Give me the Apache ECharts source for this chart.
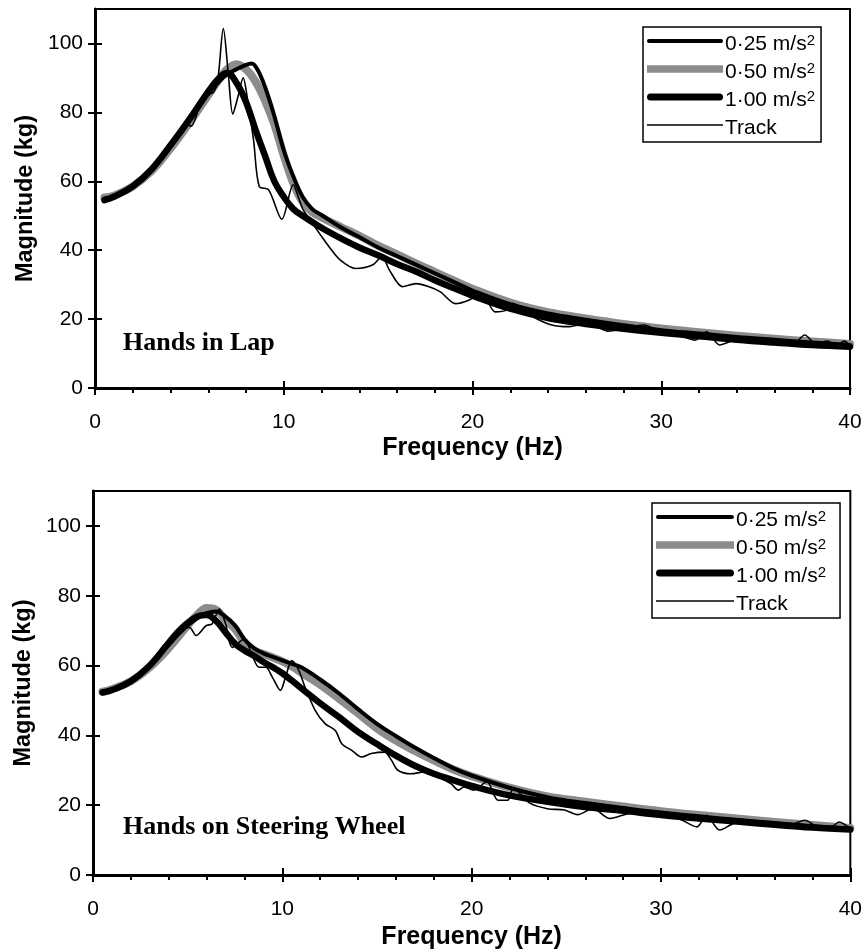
<!DOCTYPE html>
<html><head><meta charset="utf-8">
<script src="https://cdn.jsdelivr.net/npm/echarts@6/dist/echarts.min.js"></script>
<style>html,body{margin:0;padding:0;background:#fff}#c{width:865px;height:952px}</style>
</head><body><div id="c"></div>
<script>
// ---------- tick labels / categories ----------
const xTicks = [0, 10, 20, 30, 40];
const yTicks = [0, 20, 40, 60, 80, 100];
const seriesNames = ['0·25 m/s²', '0·50 m/s²', '1·00 m/s²', 'Track'];
const panelLabels = ['Hands in Lap', 'Hands on Steering Wheel'];

// ---------- Hands in Lap ----------
const lap025F = [0.5,1,2,3,4,5,6,6.5,7,7.5,8,8.3,8.6,9,9.5,10,10.5,11,11.5,12,13,14,15,16,17,18,19,20,22,24,26,28,30,32,34,36,38,40];
const lap025M = [55,55.6,58.5,63.2,70,77.5,85.5,88.5,91,92.5,93.8,94.2,92.5,87.5,79,69,61.5,55.5,52,50.2,46.7,43.8,40.8,38.3,35.8,33.3,30.8,28.3,24.3,21.6,19.8,18.2,16.8,15.8,14.8,14,13.2,12.5];
const lap050F = [0.5,1,2,3,4,5,6,6.5,7,7.5,8,8.5,9,9.5,10,10.5,11,11.5,12,13,14,15,16,17,18,19,20,22,24,26,28,30,32,34,36,38,40];
const lap050M = [55.3,55.8,58.5,63,69.5,77,85,89,92.5,94,92.5,89,83.5,76.5,67.5,59.5,54,51,49.5,46.8,44.2,41.3,38.8,36.2,33.7,31.2,28.8,24.8,22,20.2,18.6,17.3,16.2,15.2,14.3,13.5,12.8];
const lap100F = [0.5,1,2,3,4,5,6,6.5,7,7.5,8,8.5,9,9.5,10,10.5,11,12,13,14,15,16,17,18,19,20,22,24,26,28,30,32,34,36,38,40];
const lap100M = [54.5,55.5,58.5,63.5,70.5,78,86,89.5,91.5,88.5,83,75,67.5,60,55.5,52,50,46.5,43.5,40.8,38.5,36,33.8,31.3,29,26.8,23,20.3,18.6,17.2,16,15,14,13.2,12.5,12];
const lapTrkF = [0.5,1,2,3,4,4.8,5.1,5.5,6,6.3,6.5,6.8,7.05,7.3,7.55,7.85,8.1,8.4,8.7,9.2,9.9,10.5,10.8,11,11.5,11.9,12.4,13,13.8,14.7,15.2,15.6,16.3,17,17.7,18.3,19.1,19.8,20.5,21.2,21.8,22.1,23.2,24.2,25.1,25.7,26.5,27.2,28,29.1,30,31,31.8,32.4,33.1,34,35,36,37,37.6,38.2,38.8,39.3,39.7,40];
const lapTrkM = [54.5,55.5,58.5,63.5,70.5,76.5,76,81,85,86,89,104.3,92,79.5,84,90,83,72,58.5,57.5,49,59,55,52,48,44.8,41,37.1,34.7,35.7,38.1,34.2,29.4,30.3,29.4,27.9,24.5,25.5,27.5,22.1,22.6,24.6,20.7,18.3,17.8,18.3,18,16.5,17.2,18.3,16,15.2,13.9,16.3,12.5,14,13.5,13.2,12.8,15.4,12.8,13.6,12.3,13.6,12];

// ---------- Hands on Steering Wheel ----------
const wh025F = [0.5,1,2,3,4,5,5.5,6,6.5,7,7.5,8,8.5,9,9.5,10,10.5,11,12,13,14,15,16,17,18,19,20,22,24,26,28,30,32,34,36,38,40];
const wh025M = [52.3,53,55.5,60,66,71.5,73.5,75,75.5,74,71.5,67.5,65,63.5,62.5,61.5,60.5,59.5,56,52,47.5,43.3,39.8,36.5,33.5,30.7,28.5,25,22.3,20.6,19.2,17.9,16.8,15.8,14.9,14,13.3];
const wh050F = [0.5,1,2,3,4,5,5.5,6,6.5,7,7.5,8,8.5,9,9.5,10,10.5,11,12,13,14,15,16,17,18,19,20,22,24,26,28,30,32,34,36,38,40];
const wh050M = [52.5,53.2,55.5,59.5,65,71.5,74.5,76.5,76,73,70.5,66.5,64.3,63.3,62.3,61.2,59.8,58,54.5,50.5,46.3,42,38.5,35.5,32.8,30.3,28.3,25,22.5,21,19.6,18.3,17.2,16.2,15.2,14.3,13.5];
const wh100F = [0.5,1,2,3,4,4.7,5.5,6,6.5,7,7.5,8,8.5,9,9.5,10,10.5,11,12,13,14,15,16,17,18,19,20,22,24,26,28,30,32,34,36,38,40];
const wh100M = [52.3,53,55.5,60,66.5,70.8,74,74.5,72.8,69.5,66.3,64.3,62.8,61,59.5,57.8,55.7,53.5,49.2,45.2,41,37.5,34.2,31.3,29,27.2,25.5,22.8,21,19.5,18.4,17.2,16.2,15.3,14.4,13.6,13];
const whTrkF = [0.5,1,2,3,4,4.7,5.1,5.44,5.97,6.3,6.67,7,7.37,7.98,8.4,8.77,9.12,9.47,9.9,10.17,10.5,10.87,11.2,11.74,12.27,12.8,13.14,13.67,14.19,14.7,15.4,15.76,16.1,16.8,17.5,18.2,18.9,19.3,19.6,20.1,20.8,21.4,21.9,22.2,23.1,24,24.9,25.6,26.4,27.3,28.2,29.2,30,31,31.9,32.4,33.1,34,35,36,36.8,37.6,38.3,39,39.4,40];
const whTrkM = [52.3,53,55.5,60,66.5,70.8,70.9,68.6,71.4,72,76.2,72,65.2,67.6,63,59.5,59.5,56.7,52.9,56.7,61.4,58.6,53.8,47.1,43.3,41.4,37.6,35.7,33.8,34.8,35.2,32.9,30,29,29.5,28.1,26.2,24.3,25.2,24.3,26.7,21.4,21.4,24.8,20.5,19,18.6,17.3,19,16.2,17.5,18.6,17,16,13.8,17.1,12.9,15,14.6,14.4,14.3,15.7,13.8,13.8,15.2,13.2];

// ---------- build ----------
const SANS = "'Liberation Sans', Arial, sans-serif";
const SERIF = "'Liberation Serif', 'Times New Roman', serif";
const GRAY = '#8c8c8c';
function pairs(f, m) { return f.map((x, i) => [x, m[i]]); }

const styles = {
  '0·25 m/s²': { color: '#000', width: 4, smooth: 0.4 },
  '0·50 m/s²': { color: GRAY, width: 8, smooth: 0.4 },
  '1·00 m/s²': { color: '#000', width: 6.5, smooth: 0.4 },
  'Track': { color: '#000', width: 1.6, smooth: 0.3 }
};
const panels = [
  { grid: { left: 95, top: 9, width: 755, height: 379 },
    data: { '0·25 m/s²': [lap025F, lap025M], '0·50 m/s²': [lap050F, lap050M], '1·00 m/s²': [lap100F, lap100M], 'Track': [lapTrkF, lapTrkM] },
    nameGapX: 48, legend: { left: 643, top: 27, w: 76, padR: 6 }, label: { x: 123, y: 344 } },
  { grid: { left: 93, top: 491, width: 762, height: 384 },
    data: { '0·25 m/s²': [wh025F, wh025M], '0·50 m/s²': [wh050F, wh050M], '1·00 m/s²': [wh100F, wh100M], 'Track': [whTrkF, whTrkM] },
    nameGapX: 50, legend: { left: 652, top: 503, w: 78, padR: 14 }, label: { x: 123, y: 828 } }
];

const icons = {
  '0·25 m/s²': 'path://M2,0H74A2,2,0,0,1,74,4H2A2,2,0,0,1,2,0Z',
  '0·50 m/s²': 'path://M0,0H76V7.5H0Z',
  '1·00 m/s²': 'path://M3.5,0H72.5A3.5,3.5,0,0,1,72.5,7H3.5A3.5,3.5,0,0,1,3.5,0Z',
  'Track': 'path://M0,0H76V1.6H0Z'
};

const grids = [], xAxes = [], yAxes = [], series = [], legends = [], graphics = [];
const drawOrder = ['0·50 m/s²', '1·00 m/s²', '0·25 m/s²', 'Track'];
const axisColor = '#000';
panels.forEach((p, gi) => {
  grids.push(Object.assign({ show: true, borderColor: '#000', borderWidth: 2, backgroundColor: 'transparent' }, p.grid));
  xAxes.push({
    gridIndex: gi, type: 'value', min: xTicks[0], max: xTicks[xTicks.length - 1], interval: 10, position: 'bottom',
    axisLine: { onZero: false, lineStyle: { color: axisColor, width: 3 } },
    axisTick: { inside: false, length: 7, lineStyle: { color: axisColor, width: 2 } },
    minorTick: { show: true, splitNumber: 5, length: 5, lineStyle: { color: axisColor, width: 2 } },
    axisLabel: { margin: 24, fontSize: 21, color: '#000', fontFamily: SANS },
    splitLine: { show: false }, minorSplitLine: { show: false },
    name: 'Frequency (Hz)', nameLocation: 'middle', nameGap: p.nameGapX,
    nameTextStyle: { fontSize: 25, fontWeight: 'bold', color: '#000', fontFamily: SANS }
  });
  xAxes.push({
    gridIndex: gi, type: 'value', min: xTicks[0], max: xTicks[xTicks.length - 1], interval: 10, position: 'bottom',
    axisLine: { show: false, onZero: false }, axisLabel: { show: false }, splitLine: { show: false },
    axisTick: { inside: true, length: 7, lineStyle: { color: axisColor, width: 2 } }
  });
  yAxes.push({
    gridIndex: gi, type: 'value', min: 0, max: 110, position: 'left',
    axisLine: { onZero: false, lineStyle: { color: axisColor, width: 3 } },
    axisTick: { inside: false, length: 7, customValues: yTicks, lineStyle: { color: axisColor, width: 2 } },
    axisLabel: { margin: 12, fontSize: 21, color: '#000', fontFamily: SANS, customValues: yTicks },
    splitLine: { show: false },
    name: 'Magnitude (kg)', nameLocation: 'middle', nameGap: 57 - (gi ? 2 : 0),
    nameTextStyle: { fontSize: 23.5, fontWeight: 'bold', color: '#000', fontFamily: SANS }
  });
  yAxes.push({
    gridIndex: gi, type: 'value', min: 0, max: 110, position: 'left',
    axisLine: { show: false, onZero: false }, axisLabel: { show: false, customValues: yTicks }, splitLine: { show: false },
    axisTick: { inside: true, length: 7, customValues: yTicks, lineStyle: { color: axisColor, width: 2 } }
  });
  drawOrder.forEach(name => {
    const st = styles[name];
    const d = p.data[name];
    series.push({
      name: name, type: 'line', xAxisIndex: gi * 2, yAxisIndex: gi * 2,
      data: pairs(d[0], d[1]), showSymbol: false, symbol: 'none', smooth: st.smooth,
      color: st.color, lineStyle: { color: st.color, width: st.width, cap: 'round', join: 'round' },
      emphasis: { disabled: true }, silent: true
    });
  });
  legends.push({
    left: p.legend.left, top: p.legend.top, orient: 'vertical',
    itemWidth: p.legend.w, itemHeight: 8, itemGap: 0,
    padding: [0, p.legend.padR, 3, 4], borderColor: '#000', borderWidth: 1.5, backgroundColor: '#fff',
    selectedMode: false, symbolKeepAspect: true,
    itemStyle: { borderWidth: 0 },
    data: seriesNames.map(n => ({ name: n, icon: icons[n], itemStyle: { color: styles[n].color, borderWidth: 0 } })),
    formatter: n => n.replace('²', '{sup|2}'),
    textStyle: {
      fontSize: 21, color: '#000', fontFamily: SANS, lineHeight: 22, padding: [6, 0, 0, -3],
      rich: { sup: { fontSize: 15, color: '#000', fontFamily: SANS, verticalAlign: 'top', lineHeight: 22 } }
    }
  });
  graphics.push({
    type: 'text', left: p.label.x, top: p.label.y - 14, silent: true,
    style: { text: panelLabels[gi], font: "bold 26px " + SERIF, fill: '#000' }
  });
});

const chart = echarts.init(document.getElementById('c'), null, { renderer: 'canvas' });
chart.setOption({
  animation: false,
  backgroundColor: '#fff',
  grid: grids, xAxis: xAxes, yAxis: yAxes, series: series,
  legend: legends, graphic: graphics
});
</script>
</body></html>
